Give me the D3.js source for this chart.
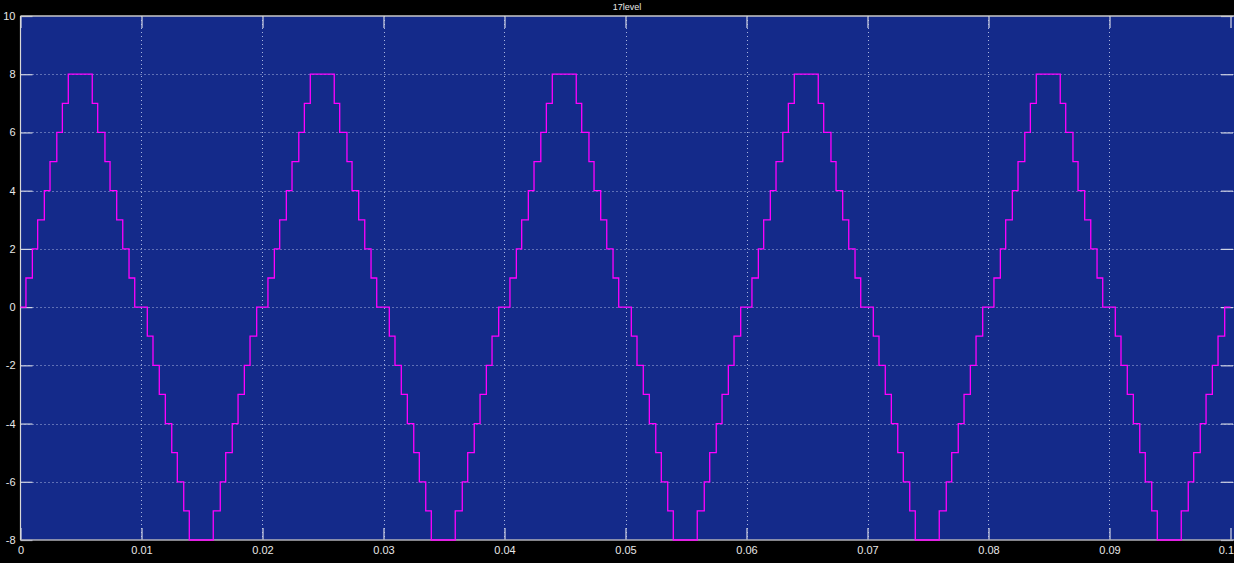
<!DOCTYPE html>
<html>
<head>
<meta charset="utf-8">
<script src="https://cdn.jsdelivr.net/npm/d3@7"></script>
<style>
  html, body { margin: 0; padding: 0; background: #000; }
  svg { display: block; }
  text { font-family: "Liberation Sans", Arial, sans-serif; }
</style>
</head>
<body>
<svg id="chart" width="1234" height="563"></svg>
<script>
// switch instants inside one 20 ms cycle and the level after each switch
const stepTimes = [
  0.00045, 0.00098, 0.00142, 0.00197, 0.00244, 0.00300, 0.00346, 0.00395,
  0.00593, 0.00638, 0.00698, 0.00740, 0.00795, 0.00845, 0.00897, 0.00944,
  0.01048, 0.01095, 0.01147, 0.01197, 0.01250, 0.01296, 0.01349, 0.01395,
  0.01593, 0.01651, 0.01696, 0.01750, 0.01798, 0.01850, 0.01897, 0.01952
]
const stepLevels = [
  1, 2, 3, 4, 5, 6, 7, 8,
  7, 6, 5, 4, 3, 2, 1, 0,
  -1, -2, -3, -4, -5, -6, -7, -8,
  -7, -6, -5, -4, -3, -2, -1, 0
]
const cycleStarts = [0, 0.02, 0.04, 0.06, 0.08]
const xTicks = [0, 0.01, 0.02, 0.03, 0.04, 0.05, 0.06, 0.07, 0.08, 0.09, 0.1]
const yTicks = [-8, -6, -4, -2, 0, 2, 4, 6, 8, 10]
const title = '17level'

const svg = d3.select('#chart')
const plotLeft = 20.5
const plotRight = 1230.5
const plotTop = 16
const plotBottom = 540

let x = d3.scaleLinear().domain([0, 0.1]).range([plotLeft, plotRight])
let y = d3.scaleLinear().domain([-8, 10]).range([plotBottom, plotTop])

// plot background
svg.append('rect')
    .attr('x', plotLeft)
    .attr('y', plotTop)
    .attr('width', 1234 - plotLeft)
    .attr('height', plotBottom - plotTop)
    .attr('fill', '#142a8a')

// dotted grid
svg.append('g').selectAll('line')
    .data(yTicks.filter(d => d > -8 && d < 10))
  .enter().append('line')
    .attr('x1', plotLeft).attr('x2', 1234)
    .attr('y1', d => Math.round(y(d)) + 0.5).attr('y2', d => Math.round(y(d)) + 0.5)
    .attr('stroke', '#a8b4e0')
    .attr('stroke-dasharray', '1,3')
svg.append('g').selectAll('line')
    .data(xTicks.filter(d => d > 0 && d < 0.1))
  .enter().append('line')
    .attr('x1', d => Math.round(x(d)) + 0.5).attr('x2', d => Math.round(x(d)) + 0.5)
    .attr('y1', plotTop).attr('y2', plotBottom)
    .attr('stroke', '#a8b4e0')
    .attr('stroke-dasharray', '1,3')

// axes: ticks point inward, 12px long; plain hyphen for negatives like the scope
let fmt = d => String(+d.toFixed(4))
let axisStyle = g => {
  g.select('.domain').remove()
  g.selectAll('.tick line').attr('stroke', '#d0d4e4').attr('stroke-width', 1.2)
  g.selectAll('.tick text').attr('fill', '#e8e8e8').style('font-size', '11px')
}
svg.append('g')
    .attr('transform', 'translate(' + plotLeft + ',0)')
    .call(d3.axisLeft(y).tickValues(yTicks).tickSize(-12).tickPadding(5).tickFormat(fmt))
    .call(axisStyle)
svg.append('g')
    .attr('transform', 'translate(1233,0)')
    .call(d3.axisRight(y).tickValues(yTicks).tickSize(-12).tickFormat(''))
    .call(axisStyle)
let xAxisG = svg.append('g')
    .attr('transform', 'translate(0,' + plotBottom + ')')
    .call(d3.axisBottom(x).tickValues(xTicks).tickSize(-12).tickPadding(6).tickFormat(fmt))
    .call(axisStyle)
// last label sits against the window edge
xAxisG.selectAll('.tick text')
    .filter(d => d === 0.1)
    .attr('text-anchor', 'end')
    .attr('dx', 3)
svg.append('g')
    .attr('transform', 'translate(0,' + plotTop + ')')
    .call(d3.axisTop(x).tickValues(xTicks).tickSize(-12).tickFormat(''))
    .call(axisStyle)

// frame lines
svg.append('line')
    .attr('x1', plotLeft).attr('x2', 1234).attr('y1', plotTop).attr('y2', plotTop)
    .attr('stroke', '#c8c8c8').attr('stroke-width', 1.5)
svg.append('line')
    .attr('x1', plotLeft).attr('x2', 1234).attr('y1', plotBottom).attr('y2', plotBottom)
    .attr('stroke', '#b0b0b8').attr('stroke-width', 1.5)
svg.append('line')
    .attr('x1', plotLeft).attr('x2', plotLeft).attr('y1', plotTop).attr('y2', plotBottom)
    .attr('stroke', '#d8d8d8').attr('stroke-width', 1.2)

// build the staircase from the cycle readings
let points = [[0, 0]]
cycleStarts.forEach(function (c) {
  stepTimes.forEach(function (t, i) {
    if (c + t <= 0.1) points.push([c + t, stepLevels[i]])
  })
})
points.push([0.1, 0])

let line = d3.line()
    .x(d => x(d[0]))
    .y(d => y(d[1]))
    .curve(d3.curveStepAfter)

svg.append('path')
    .datum(points)
    .attr('d', line)
    .attr('fill', 'none')
    .attr('stroke', '#ff00ff')
    .attr('stroke-width', 1.3)

// title
svg.append('text')
    .attr('x', 627)
    .attr('y', 10)
    .attr('text-anchor', 'middle')
    .attr('fill', '#e8e8e8')
    .style('font-size', '9px')
    .text(title)
</script>
</body>
</html>
